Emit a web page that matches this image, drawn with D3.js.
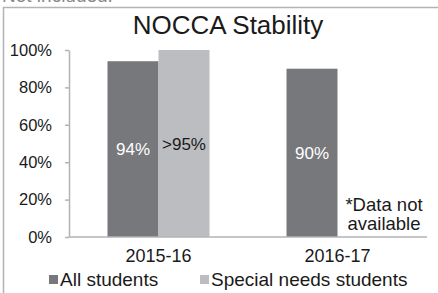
<!DOCTYPE html>
<html>
<head>
  <meta charset="utf-8">
  <title>NOCCA Stability</title>
  <style>
    body { margin: 0; background: #fff; }
    svg text { font-family: "Liberation Sans", Arial, sans-serif; }
  </style>
</head>
<body>
  <div id="chart"></div>
  <script src="https://cdn.jsdelivr.net/npm/d3@7"></script>
  <script>
    // data
    const years = ["2015-16", "2016-17"];
    const groups = ["All students", "Special needs students"];
    const allStudents = [0.94, 0.90];
    const specialNeeds = [1.00, null]; // 2016-17 not available
    const allLabels = ["94%", "90%"];
    const specialLabels = [">95%", null];
    const yTicks = [0, 0.2, 0.4, 0.6, 0.8, 1.0];
    const colors = ["#77787b", "#bcbdc0"];

    const W = 438, H = 293;
    const svg = d3.select("#chart").append("svg")
      .attr("width", W).attr("height", H);

    // frame around the chart (partly cut off by the crop)
    svg.append("path")
      .attr("d", `M3.5,${H} V7.5 H${W}`)
      .attr("fill", "none")
      .attr("stroke", "#b3b3b3")
      .attr("stroke-width", 1.5);

    // text above the frame, mostly cropped in the original too
    svg.append("text")
      .attr("x", 2).attr("y", 2)
      .attr("font-size", 19)
      .attr("fill", "#888")
      .text("Not included.");

    svg.append("text")
      .attr("x", 228).attr("y", 34)
      .attr("text-anchor", "middle")
      .attr("font-size", 26)
      .attr("fill", "#1a1a1a")
      .text("NOCCA Stability");

    const x0 = d3.scaleBand().domain(years).range([69, 427]);
    const x1 = d3.scaleBand().domain(groups).range([0, x0.bandwidth()]).paddingOuter(0.755);
    const y = d3.scaleLinear().domain([0, 1]).range([237, 50]);

    // y axis
    const yAxis = svg.append("g")
      .attr("transform", "translate(69,0)")
      .call(d3.axisLeft(y).tickValues(yTicks).tickFormat(d3.format(".0%"))
        .tickSizeInner(4).tickSizeOuter(0).tickPadding(13));
    yAxis.select(".domain").attr("stroke", "#b3b3b3").attr("stroke-width", 1.5);
    yAxis.selectAll(".tick line").attr("stroke", "#b3b3b3").attr("stroke-width", 1.5);
    yAxis.selectAll(".tick text")
      .attr("font-size", 16.5)
      .attr("font-family", "Liberation Sans, Arial, sans-serif")
      .attr("fill", "#1a1a1a");

    // bars
    const rows = years.map((yr, i) => ({
      year: yr,
      vals: [
        { g: groups[0], v: allStudents[i], lab: allLabels[i] },
        { g: groups[1], v: specialNeeds[i], lab: specialLabels[i] }
      ]
    }));

    const grp = svg.selectAll(".year")
      .data(rows).enter().append("g")
      .attr("transform", d => `translate(${x0(d.year)},0)`);

    const cells = grp.selectAll(".bar")
      .data(d => d.vals.filter(v => v.v != null))
      .enter();

    cells.append("rect")
      .attr("x", d => x1(d.g))
      .attr("y", d => y(d.v))
      .attr("width", x1.bandwidth())
      .attr("height", d => y(0) - y(d.v))
      .attr("fill", d => colors[groups.indexOf(d.g)]);

    cells.append("text")
      .attr("x", d => x1(d.g) + x1.bandwidth() / 2)
      .attr("y", d => (y(d.v) + y(0)) / 2)
      .attr("dy", "0.36em")
      .attr("text-anchor", "middle")
      .attr("font-size", 17)
      .attr("fill", d => d.g === groups[0] ? "#fff" : "#1a1a1a")
      .text(d => d.lab);

    // x axis line
    svg.append("line")
      .attr("x1", 69).attr("x2", 427)
      .attr("y1", y(0)).attr("y2", y(0))
      .attr("stroke", "#b3b3b3").attr("stroke-width", 1.5);

    svg.selectAll(".xlab")
      .data(years).enter().append("text")
      .attr("x", d => x0(d) + x0.bandwidth() / 2)
      .attr("y", 262)
      .attr("text-anchor", "middle")
      .attr("font-size", 18)
      .attr("fill", "#1a1a1a")
      .text(d => d);

    // note for missing data
    const note = svg.append("text")
      .attr("text-anchor", "middle")
      .attr("font-size", 18.5)
      .attr("fill", "#1a1a1a");
    note.append("tspan").attr("x", 384).attr("y", 211).text("*Data not");
    note.append("tspan").attr("x", 384).attr("y", 230).text("available");

    // legend
    const legendX = [49, 200];
    const leg = svg.selectAll(".leg")
      .data(groups).enter().append("g")
      .attr("transform", (d, i) => `translate(${legendX[i]},275)`);
    leg.append("rect")
      .attr("width", 9).attr("height", 9)
      .attr("fill", (d, i) => colors[i]);
    leg.append("text")
      .attr("x", 11).attr("y", 11)
      .attr("font-size", 19)
      .attr("fill", "#1a1a1a")
      .text(d => d);
  </script>
</body>
</html>
